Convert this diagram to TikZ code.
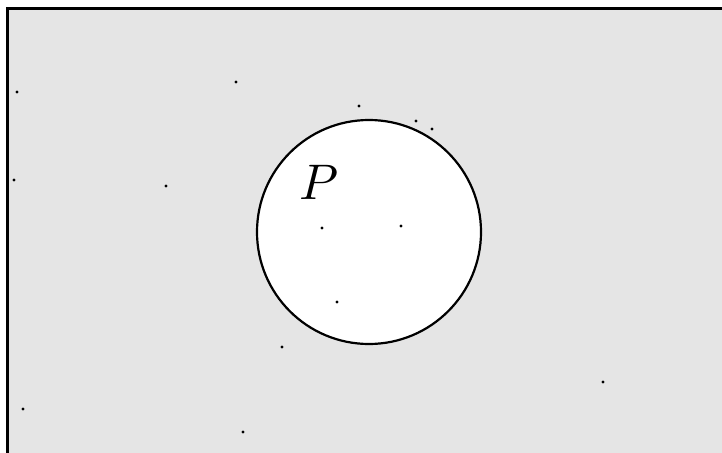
\documentclass[tikz,border=0pt]{standalone}
\begin{document}
\begin{tikzpicture}[x=1pt,y=-1pt,
  pt/.style={circle,fill=black,inner sep=0pt,minimum size=3.4pt},
  lbl/.style={inner sep=0pt}]
\useasboundingbox (0,0) rectangle (722,452);
\clip (0,0) rectangle (722,452);
\fill[fill={rgb,255:red,229;green,229;blue,229}] (7,9) rectangle (740,470);
\draw[line width=3pt] (7,470) -- (7,9) -- (740,9);
\node[circle,draw,line width=2.2pt,fill=white,minimum size=224pt,inner sep=0pt] (P) at (369,232) {};
\node[lbl] (lab) at (319,182) {\scalebox{5}{$P$}};
\foreach \n/\x/\y in {a/17/92,b/236/82,c/359/106,d/416/121,e/432/129,f/14/180,g/166/186,h/322/228,i/401/226,j/337/302,k/282/347,l/603/382,m/23/409,n/243/432}
  \node[pt] (\n) at (\x,\y) {};
\end{tikzpicture}
\end{document}
